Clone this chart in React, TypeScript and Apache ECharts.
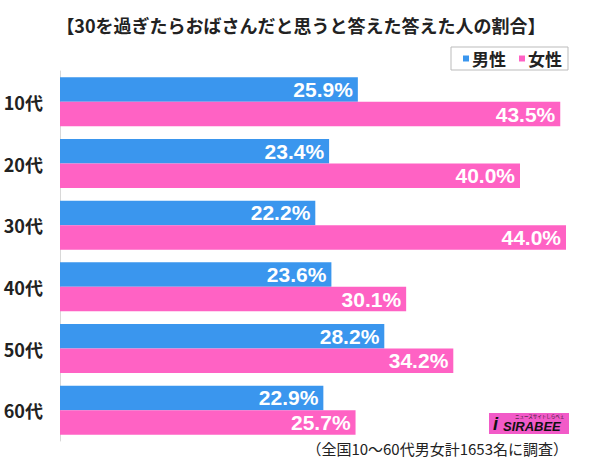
import React, { useEffect, useRef } from "react";
import * as echarts from "echarts";

const categories = ["10代", "20代", "30代", "40代", "50代", "60代"];
const maleValues = [25.9, 23.4, 22.2, 23.6, 28.2, 22.9];
const femaleValues = [43.5, 40.0, 44.0, 30.1, 34.2, 25.7];
const seriesNames = ["男性", "女性"];
const titleText = "【30を過ぎたらおばさんだと思うと答えた答えた人の割合】";
const noteText = "（全国10～60代男女計1653名に調査）";

const BLUE = "#3a96ee";
const PINK = "#ff62c4";
const CJK = "'Noto Sans CJK JP', 'Noto Sans', sans-serif";

export default function App() {
  const ref = useRef<HTMLDivElement>(null);
  useEffect(() => {
    document.body.style.margin = "0";
    if (!ref.current) return;
    const chart = echarts.init(ref.current, null, { renderer: "svg" });
    const label = {
      show: true,
      position: "insideRight",
      distance: 5,
      color: "#fff",
      fontSize: 21,
      fontWeight: "bold",
      fontFamily: "'Liberation Sans', Arial, sans-serif",
      formatter: (p: any) => p.value.toFixed(1) + "%",
    };
    chart.setOption({
      animation: false,
      backgroundColor: "#fff",
      title: {
        text: titleText,
        left: 296,
        textAlign: "center",
        top: 11,
        textStyle: { fontSize: 18, fontWeight: "bold", color: "#222", fontFamily: CJK },
      },
      legend: {
        data: seriesNames,
        right: 32,
        top: 47,
        icon: "rect",
        itemWidth: 6,
        itemHeight: 6,
        itemGap: 13,
        padding: [3, 6, 3, 12],
        borderColor: "#bbb",
        borderWidth: 1,
        textStyle: { fontSize: 17, fontWeight: "bold", color: "#222", fontFamily: CJK, padding: [0, 0, 0, -2] },
      },
      grid: { left: 60, top: 71, width: 517.5, height: 370, outerBoundsMode: "none", containLabel: false },
      xAxis: {
        type: "value",
        min: 0,
        max: 45,
        show: false,
      },
      yAxis: {
        type: "category",
        data: categories,
        inverse: true,
        axisLine: { show: true, lineStyle: { color: "#d8d8d8", width: 1 } },
        axisTick: { show: false },
        axisLabel: { fontSize: 18, fontWeight: "bold", color: "#222", fontFamily: CJK, margin: 17 },
      },
      series: [
        {
          name: seriesNames[0],
          type: "bar",
          data: maleValues,
          barWidth: 24.5,
          barGap: "0%",
          itemStyle: { color: BLUE },
          label,
        },
        {
          name: seriesNames[1],
          type: "bar",
          data: femaleValues,
          barWidth: 24.5,
          barGap: "0%",
          itemStyle: { color: PINK },
          label,
        },
      ],
      graphic: [
        {
          type: "group",
          left: 489,
          top: 413,
          children: [
            { type: "rect", shape: { x: 0, y: 0, width: 80, height: 21 }, style: { fill: "#f25ac8" } },
            {
              type: "text",
              x: 4,
              y: 2,
              style: { text: "i", fontSize: 18, fontWeight: "bold", fontStyle: "italic", fill: "#111", fontFamily: "'Liberation Sans', sans-serif" },
            },
            {
              type: "text",
              x: 14,
              y: 7,
              style: { text: "SIRABEE", fontSize: 13, fontWeight: "bold", fontStyle: "italic", fill: "#111", fontFamily: "'Liberation Sans', sans-serif" },
            },
            {
              type: "text",
              x: 26,
              y: 1,
              style: { text: "ニュースサイトしらべぇ", fontSize: 4.5, fill: "#111", fontFamily: CJK },
            },
          ],
        },
        {
          type: "text",
          right: 32,
          top: 441,
          style: { text: noteText, fontSize: 15, fill: "#222", fontFamily: CJK },
        },
      ],
    });
    return () => chart.dispose();
  }, []);
  return <div ref={ref} style={{ width: 600, height: 470 }} />;
}
